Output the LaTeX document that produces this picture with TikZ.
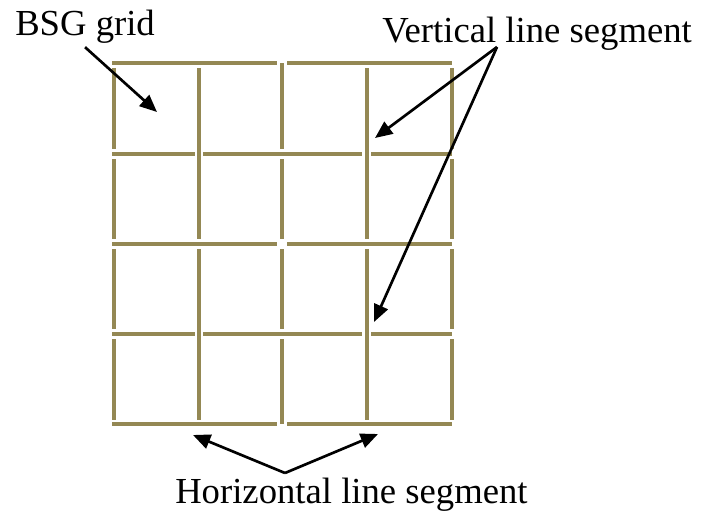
\documentclass[tikz,border=0pt]{standalone}
\usepackage{fontspec}
\setmainfont{Liberation Serif}
\usetikzlibrary{arrows.meta,positioning}
\definecolor{olivegrid}{RGB}{148,136,84}
\tikzset{
  gridseg/.style={draw=olivegrid,line width=2.6pt},
  callout/.style={-{Triangle[length=13pt,width=11pt]},draw=black,line width=2pt},
  lbl/.style={inner sep=0pt,font=\fontsize{27.5}{30}\selectfont}
}
\begin{document}
\begin{tikzpicture}[x=0.75pt,y=-0.75pt]
  \useasboundingbox (0,0) rectangle (702,518);

  % horizontal line segments
  \foreach \y in {63,244,424}{
    \draw[gridseg] (112,\y) -- (277,\y);
    \draw[gridseg] (287,\y) -- (452,\y);
  }
  \foreach \y in {154,334}{
    \draw[gridseg] (112,\y) -- (195,\y);
    \draw[gridseg] (203,\y) -- (362,\y);
    \draw[gridseg] (371,\y) -- (452,\y);
  }

  % vertical line segments
  \foreach \x/\ya/\yb in {114/68/149,114/159/239,114/249/329,114/339/420,
                          199/68/239,199/249/420,
                          282/63/149,282/159/239,282/249/329,282/339/424,
                          367/68/239,367/249/420,
                          452/68/149,452/159/239,452/249/329,452/339/420}{
    \draw[gridseg] (\x,\ya) -- (\x,\yb);
  }

  % labels
  \node[lbl,anchor=base west] (bsg) at (15,35) {BSG grid};
  \node[lbl,anchor=base west] (vlab) at (382,42) {Vertical line segment};
  \node[lbl,anchor=base west] (hlab) at (175,503) {Horizontal line segment};

  \coordinate (bsgtip) at (157,112);
  \coordinate (vsrc) at (497,47);
  \coordinate (vtipa) at (375,138);
  \coordinate (vtipb) at (374,322);
  \coordinate (hsrc) at (285,473);
  \coordinate (htipa) at (193,435);
  \coordinate (htipb) at (378,434);

  \draw[callout] ([yshift=-3pt]bsg.south) -- (bsgtip);
  \draw[callout] (vsrc) -- (vtipa);
  \draw[callout] (vsrc) -- (vtipb);
  \draw[callout] (hsrc) -- (htipa);
  \draw[callout] (hsrc) -- (htipb);
\end{tikzpicture}
\end{document}
